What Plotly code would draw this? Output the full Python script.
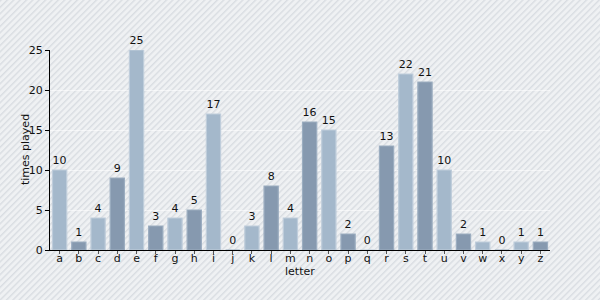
import plotly.graph_objects as go
import base64

letters = list("abcdefghijklmnopqrstuvwxyz")
times_played = [10, 1, 4, 9, 25, 3, 4, 5, 17, 0, 3, 8, 4, 16, 15, 2, 0, 13, 22, 21, 10, 2, 1, 0, 1, 1]

light_fill, light_line = "#a4b8cb", "#bfcddb"
dark_fill, dark_line = "#8699af", "#9badc0"
fills = [light_fill if i % 2 == 0 else dark_fill for i in range(len(letters))]
lines = [light_line if i % 2 == 0 else dark_line for i in range(len(letters))]

svg = """<svg xmlns='http://www.w3.org/2000/svg' width='600' height='300'>
<defs><pattern id='p' width='4.5' height='4.5' patternUnits='userSpaceOnUse' patternTransform='rotate(45)'>
<rect width='4.5' height='4.5' fill='#eff1f3'/><rect width='1.4' height='4.5' fill='#d9dde2'/></pattern></defs>
<rect width='600' height='300' fill='url(#p)'/></svg>"""
bg_uri = "data:image/svg+xml;base64," + base64.b64encode(svg.encode()).decode()

fig = go.Figure(go.Bar(
    x=letters, y=times_played,
    marker=dict(color=fills, line=dict(color=lines, width=1.2)),
    width=0.74,
    text=[str(v) for v in times_played], textposition="outside",
    textfont=dict(color="#111111", size=11, family="DejaVu Sans"),
    cliponaxis=False,
))

fig.update_layout(
    width=600, height=300,
    margin=dict(l=50, r=50, t=50, b=50),
    paper_bgcolor="#eceef0", plot_bgcolor="rgba(0,0,0,0)",
    font=dict(family="DejaVu Sans", size=11, color="#111111"),
    showlegend=False,
    images=[dict(source=bg_uri, xref="paper", yref="paper", x=-0.1, y=1.25,
                 sizex=1.2, sizey=1.5, sizing="stretch", layer="below", xanchor="left", yanchor="top")],
    xaxis=dict(range=[-0.5, 25.5], showline=True, linecolor="#000000", linewidth=1,
               ticks="outside", ticklen=3, tickcolor="#555555", showgrid=False,
               ticklabelstandoff=-5, tickfont=dict(size=11)),
    yaxis=dict(range=[0, 25], showline=True, linecolor="#000000", linewidth=1,
               ticks="outside", ticklen=4, tickcolor="#000000", dtick=5,
               showgrid=True, gridcolor="rgba(255,255,255,0.55)", gridwidth=1,
               zeroline=False, tickfont=dict(size=11)),
    annotations=[
        dict(text="times played", xref="paper", yref="paper", x=-0.05, y=0.5,
             textangle=-90, showarrow=False, xanchor="center", yanchor="middle",
             font=dict(size=11, color="#111111")),
        dict(text="letter", xref="paper", yref="paper", x=0.5, y=-0.108,
             showarrow=False, xanchor="center", yanchor="middle",
             font=dict(size=11, color="#111111")),
    ],
    bargap=0.26,
)

fig.write_html("out.html")
